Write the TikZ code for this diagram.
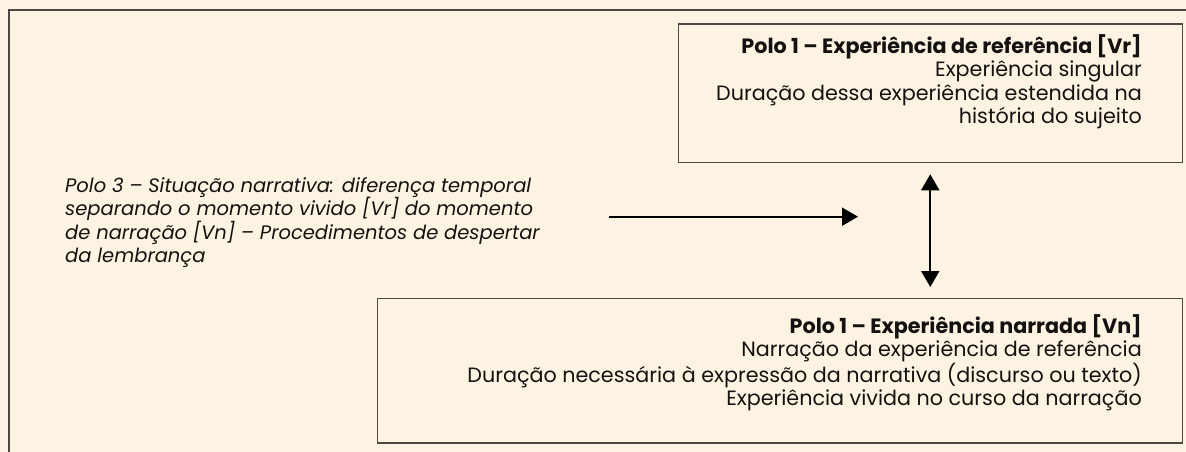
\documentclass[tikz,border=0pt]{standalone}
\usepackage{fontspec}
\setmainfont{Poppins}
\usetikzlibrary{arrows.meta}
\definecolor{bg}{RGB}{253,243,226}
\definecolor{frame}{RGB}{77,72,68}
\definecolor{ink}{RGB}{20,18,16}
\tikzset{
  pbox/.style={draw=frame, line width=1.5pt, inner sep=0pt, anchor=north west},
  ptext/.style={inner sep=0pt, align=right, anchor=north east, text=ink, font=\fontsize{20.7}{23.5}\selectfont},
  ltext/.style={inner sep=0pt, align=left, anchor=north west, text=ink, font=\fontsize{19.5}{23.5}\selectfont\itshape},
  arr/.style={line width=2pt, -{Triangle[width=18pt,length=16pt]}},
  darr/.style={line width=2pt, {Triangle[width=18pt,length=16pt]}-{Triangle[width=18pt,length=16pt]}}
}
\begin{document}
\begin{tikzpicture}[x=1pt,y=-1pt]
\useasboundingbox (0,0) rectangle (1186,452);
\fill[bg] (0,0) rectangle (1186,452);
\draw[frame, line width=2pt] (9,460) -- (9,10) -- (1195,10);
\node[pbox, minimum width=504pt, minimum height=138.5pt] (top) at (677.5,23.3) {};
\node[ptext] (toptext) at (1142,34) {\textbf{Polo 1 – Experiência de referência [Vr]}\\Experiência singular\\Duração dessa experiência estendida na\\história do sujeito\ };
\node[pbox, minimum width=805pt, minimum height=144.5pt] (bot) at (376.5,297.5) {};
\node[ptext] (bottext) at (1142,314) {\textbf{Polo 1 – Experiência narrada [Vn]}\\Narração da experiência de referência\\Duração necessária à expressão da narrativa (discurso ou texto)\\Experiência vivida no curso da narração};
\node[ltext] (left) at (65,177) {Polo 3 – Situação narrativa: diferença temporal\\separando o momento vivido [Vr] do momento\\de narração [Vn] – Procedimentos de despertar\\da lembrança};
\coordinate (hs) at (609,216.7);
\coordinate (he) at (858,216.7);
\draw[arr] (hs) -- (he);
\draw[darr] ([yshift=-11pt]top.south) -- ([yshift=10.5pt]top.south |- bot.north);
\end{tikzpicture}
\end{document}
